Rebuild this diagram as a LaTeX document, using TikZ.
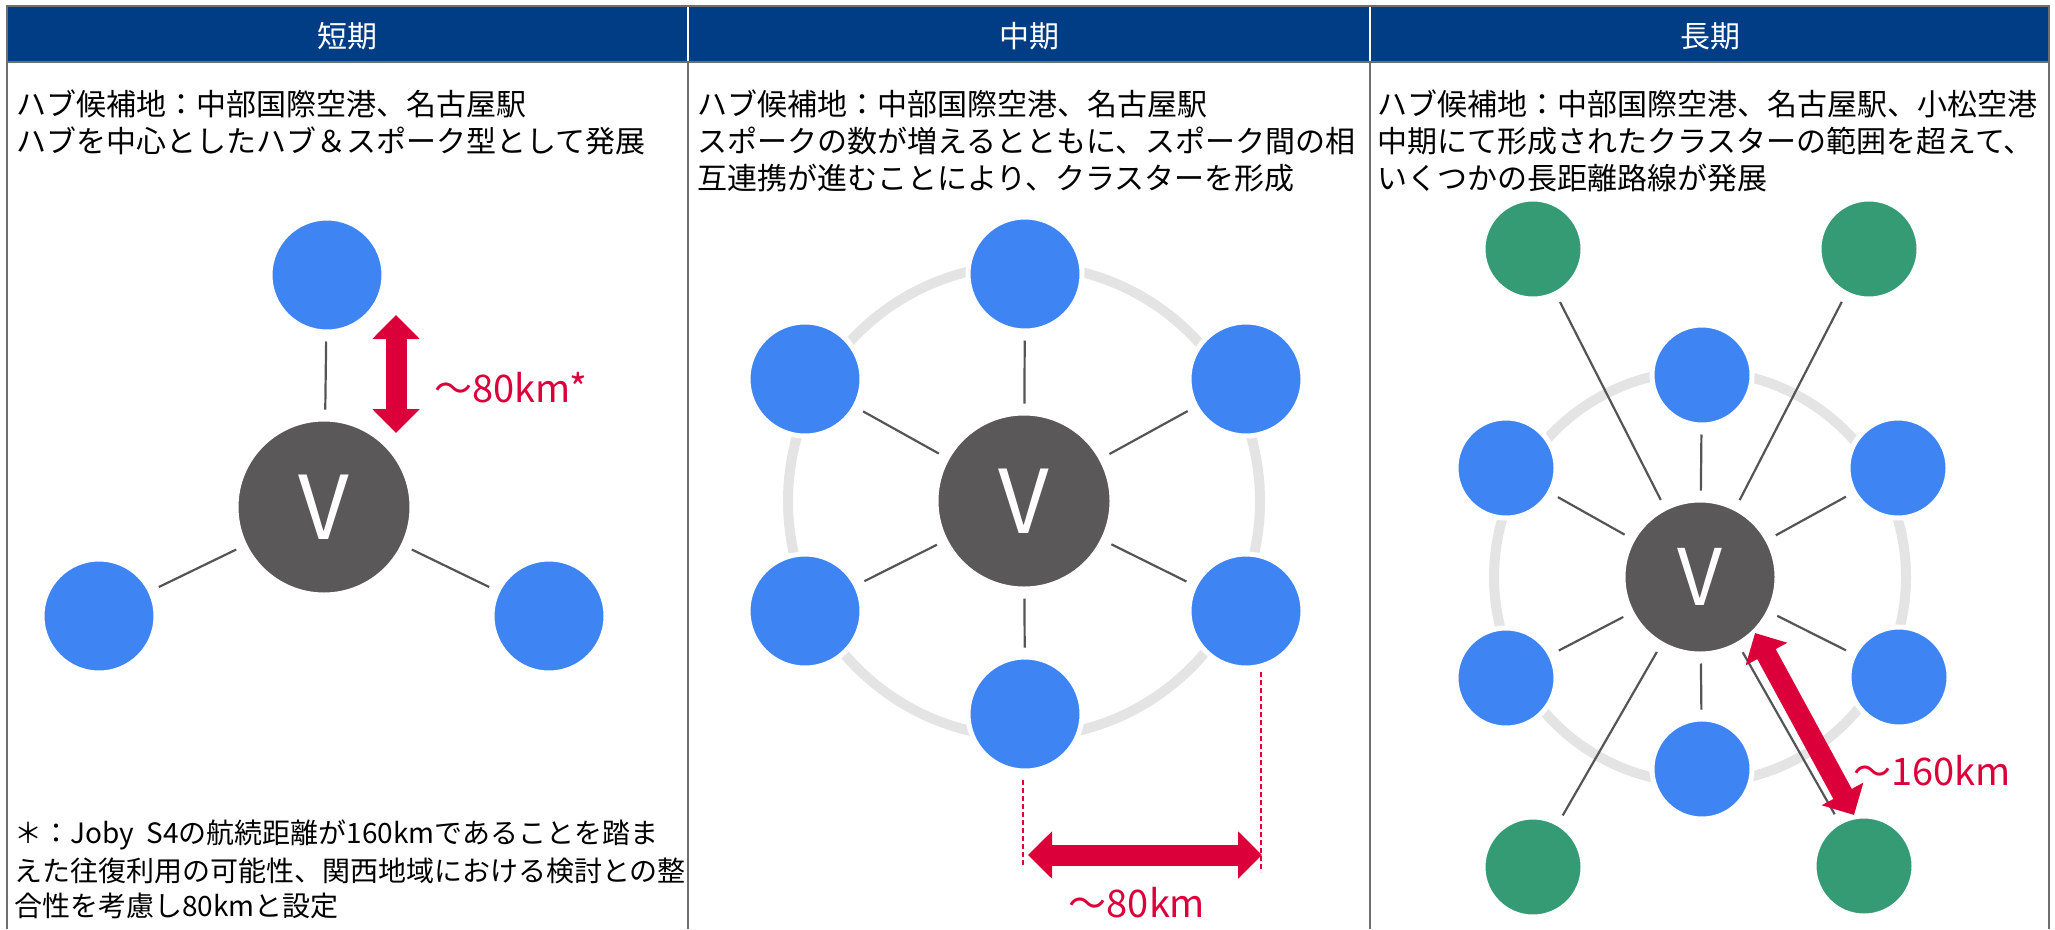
\documentclass[tikz,border=0pt]{standalone}
\usepackage{fontspec}
\newfontfamily\jp{Noto Sans CJK JP}
\usetikzlibrary{arrows.meta}
\definecolor{headblue}{HTML}{003D85}
\definecolor{spblue}{HTML}{3E84F2}
\definecolor{spgreen}{HTML}{349B74}
\definecolor{hubgray}{HTML}{5A5858}
\definecolor{ringgray}{HTML}{E4E4E4}
\definecolor{arrred}{HTML}{DC003A}
\definecolor{linegray}{HTML}{555555}
\definecolor{bordergray}{HTML}{6E6E6E}
\tikzset{
  hubA/.style={circle, fill=hubgray, draw=white, line width=5pt, minimum size=176pt, inner sep=0pt, text=white, font=\jp\fontsize{88}{88}\selectfont},
  hubB/.style={hubA, minimum size=154pt, font=\jp\fontsize{78}{78}\selectfont},
  spkA/.style={circle, fill=spblue, draw=white, line width=5pt, minimum size=114pt, inner sep=0pt},
  spkB/.style={spkA, minimum size=100pt},
  grnB/.style={spkB, fill=spgreen},
  link/.style={draw=linegray, line width=2.2pt, shorten >=7pt, shorten <=7pt},
  ringline/.style={draw=ringgray, line width=10pt},
  bigarrow/.style={draw=arrred, line width=21pt, {Triangle[width=46pt,length=24pt]}-{Triangle[width=46pt,length=24pt]}},
  guide/.style={draw=arrred, line width=1.5pt, dash pattern=on 5pt off 3pt},
  bodytext/.style={anchor=west, inner sep=0pt, font=\jp\fontsize{30}{37}\selectfont},
  notetext/.style={anchor=west, inner sep=0pt, font=\jp\fontsize{28}{36}\selectfont},
  headtext/.style={inner sep=0pt, text=white, font=\jp\fontsize{30}{36}\selectfont},
  redlabel/.style={inner sep=0pt, text=arrred, font=\jp\fontsize{38}{40}\selectfont},
}
\begin{document}
\begin{tikzpicture}[x=1pt, y=-1pt]
\useasboundingbox[fill=white] (0,0) rectangle (2055,929);
% header
\fill[headblue] (7,6) rectangle (2049,62);
\draw[white, line width=2pt] (688,6) -- (688,62) (1370,6) -- (1370,62);
\draw[bordergray, line width=2.5pt] (7,929) -- (7,6) -- (2049,6) -- (2049,929);
\draw[bordergray, line width=2.5pt] (7,62) -- (2049,62);
\draw[bordergray, line width=2.5pt] (688,62) -- (688,929) (1370,62) -- (1370,929);
\node[headtext] (h1) at (347,36) {短期};
\node[headtext] (h2) at (1029,36) {中期};
\node[headtext] (h3) at (1710,36) {長期};
% texts
\node[bodytext] (t1a) at (16,104) {ハブ候補地：中部国際空港、名古屋駅};
\node[bodytext] (t1b) at (16,141) {ハブを中心としたハブ＆スポーク型として発展};
\node[bodytext] (t2a) at (697,104) {ハブ候補地：中部国際空港、名古屋駅};
\node[bodytext] (t2b) at (697,141) {スポークの数が増えるとともに、スポーク間の相};
\node[bodytext] (t2c) at (697,178) {互連携が進むことにより、クラスターを形成};
\node[bodytext] (t3a) at (1377,104) {ハブ候補地：中部国際空港、名古屋駅、小松空港};
\node[bodytext] (t3b) at (1377,141) {中期にて形成されたクラスターの範囲を超えて、};
\node[bodytext] (t3c) at (1377,178) {いくつかの長距離路線が発展};
\node[notetext] (n1) at (14,835) {＊：Joby\ \ S4の航続距離が160kmであることを踏ま};
\node[notetext] (n2) at (14,871) {えた往復利用の可能性、関西地域における検討との整};
\node[notetext] (n3) at (14,906) {合性を考慮し80kmと設定};
% ---------- panel 1
\node[hubA] (v1) at (324,507) {V};
\node[spkA] (p1t) at (327,275) {};
\node[spkA] (p1l) at (99,616) {};
\node[spkA] (p1r) at (549,616) {};
\draw[link] (v1) -- (p1t);
\draw[link] (v1) -- (p1l);
\draw[link] (v1) -- (p1r);
\coordinate (a1s) at (396,315);
\coordinate (a1e) at (396,433);
\draw[bigarrow] (a1s) -- (a1e);
\node[redlabel, anchor=west] (l1) at (434,388) {～80km*};
% ---------- panel 2
\draw[ringline] (1024,501) circle[radius=236];
\node[hubA] (v2) at (1024,501) {V};
\node[spkA] (p2t) at (1025,274) {};
\node[spkA] (p2ul) at (805,379) {};
\node[spkA] (p2ur) at (1246,379) {};
\node[spkA] (p2ll) at (805,611) {};
\node[spkA] (p2lr) at (1246,611) {};
\node[spkA] (p2b) at (1025,714) {};
\foreach \n in {p2t,p2ul,p2ur,p2ll,p2lr,p2b} \draw[link] (v2) -- (\n);
\coordinate (g2a) at (1023,780);
\coordinate (g2b) at (1023,866);
\coordinate (g2c) at (1261,672);
\coordinate (g2d) at (1261,872);
\draw[guide] (g2a) -- (g2b);
\draw[guide] (g2c) -- (g2d);
\coordinate (a2s) at (1028,855);
\coordinate (a2e) at (1262,855);
\draw[bigarrow] (a2s) -- (a2e);
\node[redlabel] (l2) at (1137,903) {～80km};
% ---------- panel 3
\draw[ringline] (1700,577) circle[radius=206];
\node[hubB] (v3) at (1700,577) {V};
\node[spkB] (p3t) at (1702,375) {};
\node[spkB] (p3ul) at (1506,468) {};
\node[spkB] (p3ur) at (1898,468) {};
\node[spkB] (p3ll) at (1506,678) {};
\node[spkB] (p3lr) at (1899,677) {};
\node[spkB] (p3b) at (1702,769) {};
\node[grnB] (g3tl) at (1533,249) {};
\node[grnB] (g3tr) at (1869,249) {};
\node[grnB] (g3bl) at (1533,867) {};
\node[grnB] (g3br) at (1864,866) {};
\foreach \n in {p3t,p3ul,p3ur,p3ll,p3lr,p3b,g3tl,g3tr,g3bl,g3br} \draw[link] (v3) -- (\n);
\coordinate (a3s) at (1755,633);
\coordinate (a3e) at (1854,815);
\draw[bigarrow] (a3s) -- (a3e);
\node[redlabel, anchor=west] (l3) at (1853,771) {～160km};
\end{tikzpicture}
\end{document}
